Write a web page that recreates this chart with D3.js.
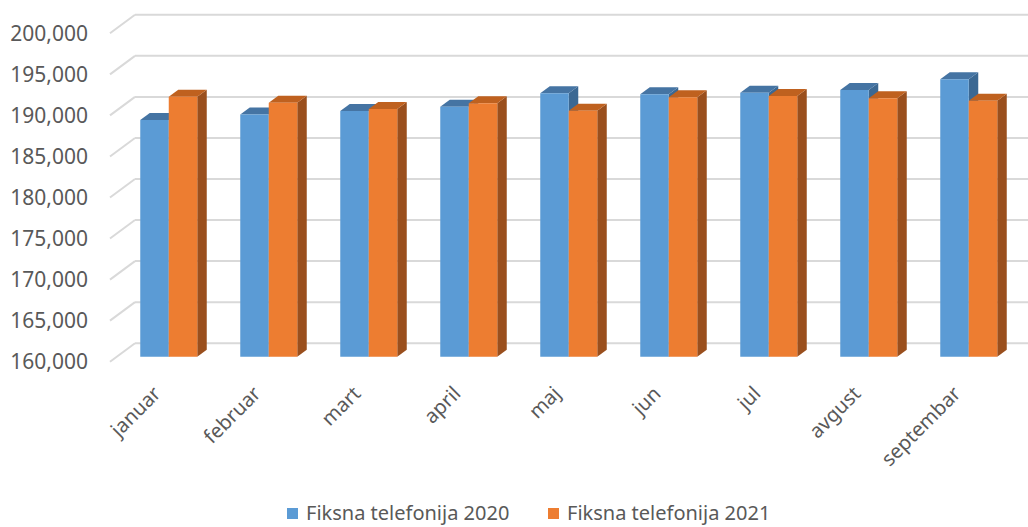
<!DOCTYPE html>
<html>
<head>
<meta charset="utf-8">
<script src="https://cdn.jsdelivr.net/npm/d3@7"></script>
<style>
  body { margin: 0; background: #fff; }
  text { font-family: "Noto Sans", "Open Sans", sans-serif; fill: #595959; }
</style>
</head>
<body>
<div id="chart"></div>
<script>
// data
var months = ["januar", "februar", "mart", "april", "maj", "jun", "jul", "avgust", "septembar"];
var series = ["Fiksna telefonija 2020", "Fiksna telefonija 2021"];
var values2020 = [188830, 189500, 189930, 190450, 192080, 191960, 192160, 192490, 193790];
var values2021 = [191670, 190940, 190170, 190870, 189960, 191600, 191750, 191470, 191180];
var yTicks = [160000, 165000, 170000, 175000, 180000, 185000, 190000, 195000, 200000];

var colors = {
  front: ["#5b9bd5", "#ed7d31"],
  top:   ["#4574a3", "#bf611f"],
  side:  ["#3b6893", "#9a4f1d"]
};

var width = 1028, height = 527;

// oblique depth: full floor depth shifts right and up
var depthX = 25, depthY = -18.5;
var barFront = 0.27, barBack = 0.65; // bars sit in the middle of the depth

var svg = d3.select("#chart")
  .append("svg")
  .attr("width", width)
  .attr("height", height);

// scales on the front plane
var y = d3.scaleLinear()
  .domain([160000, 200000])
  .range([361.7, 33.3]);

var x = d3.scaleBand()
  .domain(months)
  .range([112, 1012])
  .paddingInner(0.43)
  .paddingOuter(0.215);

var xs = d3.scaleBand()
  .domain(series)
  .range([0, x.bandwidth()]);

function proj(px, py, d) {
  return [px + d * depthX, py + d * depthY];
}

// gridlines: back wall + left side wall
var grid = svg.append("g")
  .attr("stroke", "#d9d9d9")
  .attr("stroke-width", 2)
  .attr("fill", "none");

grid.selectAll(".back")
  .data(yTicks)
  .enter().append("line")
  .attr("x1", x.range()[0] - 2 + depthX)
  .attr("x2", width + 10)
  .attr("y1", function(d) { return y(d) + depthY; })
  .attr("y2", function(d) { return y(d) + depthY; });

grid.selectAll(".side")
  .data(yTicks)
  .enter().append("line")
  .attr("x1", x.range()[0] - 2)
  .attr("x2", x.range()[0] - 2 + depthX)
  .attr("y1", function(d) { return y(d); })
  .attr("y2", function(d) { return y(d) + depthY; });

// y axis labels
svg.append("g")
  .attr("transform", "translate(110,0)")
  .call(d3.axisLeft(y).tickValues(yTicks).tickFormat(d3.format(",")).tickSize(0).tickPadding(22))
  .call(function(g) { g.select(".domain").remove(); })
  .selectAll("text")
  .attr("font-family", "Noto Sans")
  .attr("font-size", 21)
  .attr("fill", "#595959");

// bars
var bars = [];
months.forEach(function(m, i) {
  bars.push({ month: m, s: 0, value: values2020[i] });
  bars.push({ month: m, s: 1, value: values2021[i] });
});

var barG = svg.append("g");

bars.forEach(function(b) {
  var x0 = x(b.month) + xs(series[b.s]);
  var x1 = x0 + xs.bandwidth();
  var yTop = y(b.value), yBot = y(160000);

  var f = [proj(x0, yTop, barFront), proj(x1, yTop, barFront), proj(x1, yBot, barFront), proj(x0, yBot, barFront)];
  var t = [proj(x0, yTop, barFront), proj(x0, yTop, barBack), proj(x1, yTop, barBack), proj(x1, yTop, barFront)];
  var s = [proj(x1, yTop, barFront), proj(x1, yTop, barBack), proj(x1, yBot, barBack), proj(x1, yBot, barFront)];

  var g = barG.append("g");
  g.append("polygon").attr("points", s.join(" ")).attr("fill", colors.side[b.s]);
  g.append("polygon").attr("points", t.join(" ")).attr("fill", colors.top[b.s]);
  g.append("polygon").attr("points", f.join(" ")).attr("fill", colors.front[b.s]);
});

// category labels, rotated
svg.append("g")
  .selectAll("text")
  .data(months)
  .enter().append("text")
  .attr("transform", function(d) {
    return "translate(" + (x(d) + x.bandwidth() / 2 - 5) + ",390) rotate(-45)";
  })
  .attr("text-anchor", "end")
  .attr("dy", "0.35em")
  .attr("font-size", 20)
  .text(function(d) { return d; });

// legend
var legend = svg.append("g")
  .attr("transform", "translate(287,513)");

var item = legend.selectAll("g")
  .data(series)
  .enter().append("g")
  .attr("transform", function(d, i) { return "translate(" + (i * 261) + ",0)"; });

item.append("rect")
  .attr("x", 0)
  .attr("y", -5)
  .attr("width", 11)
  .attr("height", 11)
  .attr("fill", function(d, i) { return colors.front[i]; });

item.append("text")
  .attr("x", 19)
  .attr("dy", "0.35em")
  .attr("font-size", 20)
  .text(function(d) { return d; });
</script>
</body>
</html>
